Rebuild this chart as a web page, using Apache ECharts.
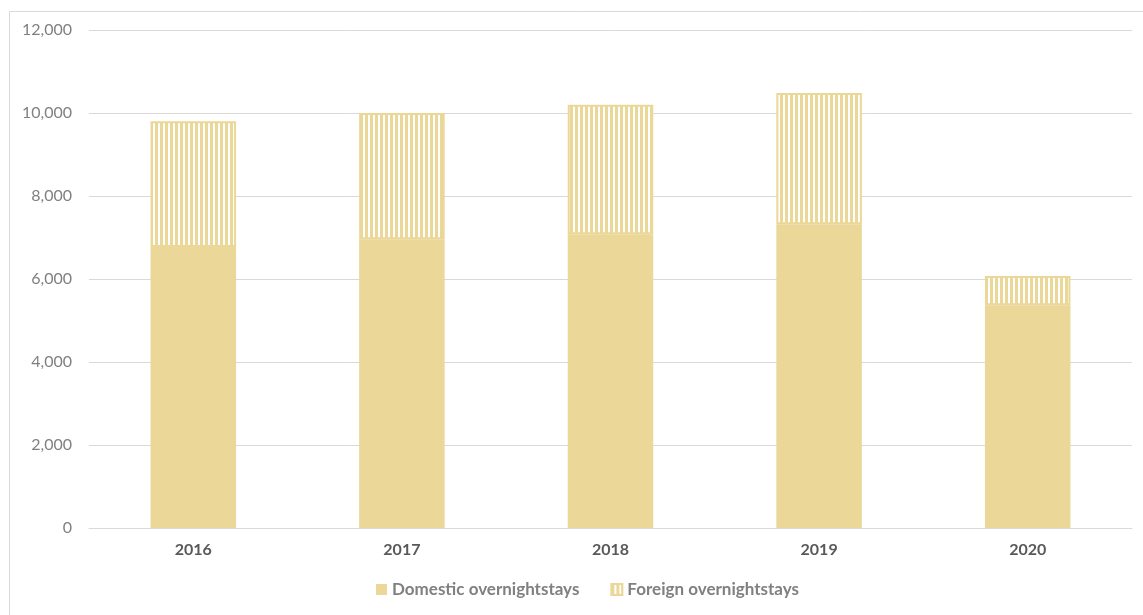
<!DOCTYPE html>
<html>
<head>
<meta charset="utf-8">
<script src="https://cdn.jsdelivr.net/npm/echarts@6/dist/echarts.min.js"></script>
<style>
  html, body { margin: 0; padding: 0; background: #fff; }
  #main { width: 1143px; height: 615px; }
</style>
</head>
<body>
<div id="main"></div>
<script>
  // data
  var years = ['2016', '2017', '2018', '2019', '2020'];
  var domestic = [6770, 6960, 7080, 7320, 5370];
  var foreign = [3030, 3040, 3120, 3160, 700];
  var yTicks = [0, 2000, 4000, 6000, 8000, 10000, 12000];

  var gold = '#ebd798';

  // vertical stripes for the foreign series
  function stripes() {
    var c = document.createElement('canvas');
    c.width = 5; c.height = 8;
    var ctx = c.getContext('2d');
    ctx.fillStyle = '#fff';
    ctx.fillRect(0, 0, 5, 8);
    ctx.fillStyle = gold;
    ctx.fillRect(0, 0, 3, 8);
    return c;
  }

  var chart = echarts.init(document.getElementById('main'));
  chart.setOption({
    animation: false,
    textStyle: { fontFamily: 'Lato' },
    graphic: [{
      type: 'rect',
      left: 7, top: 9,
      shape: { width: 1160, height: 640 },
      style: { fill: 'none', stroke: '#d9d9d9', lineWidth: 1 },
      silent: true
    }],
    grid: { left: 89, right: 11, top: 30, bottom: 87 },
    legend: {
      bottom: 12,
      left: 371,
      itemWidth: 11,
      itemHeight: 11,
      itemGap: 31,
      textStyle: { color: '#808080', fontSize: 17, fontWeight: 'bold' },
      data: [
        { name: 'Domestic overnightstays', icon: 'rect' },
        { name: 'Foreign overnightstays', icon: 'rect' }
      ]
    },
    xAxis: {
      type: 'category',
      data: years,
      axisLine: { lineStyle: { color: '#d9d9d9' } },
      axisTick: { show: false },
      axisLabel: { color: '#595959', fontSize: 16, fontWeight: 'bold', margin: 14 }
    },
    yAxis: {
      type: 'value',
      min: yTicks[0],
      max: yTicks[yTicks.length - 1],
      interval: yTicks[1] - yTicks[0],
      axisLine: { show: false },
      axisTick: { show: false },
      splitLine: { lineStyle: { color: '#d9d9d9' } },
      axisLabel: {
        color: '#808080', fontSize: 16, margin: 17,
        formatter: function (v) { return v.toLocaleString('en-US'); }
      }
    },
    series: [
      {
        name: 'Domestic overnightstays',
        type: 'bar',
        stack: 'total',
        barWidth: '41%',
        itemStyle: { color: gold },
        data: domestic
      },
      {
        name: 'Foreign overnightstays',
        type: 'bar',
        stack: 'total',
        barWidth: '41%',
        itemStyle: {
          color: { image: stripes(), repeat: 'repeat' },
          borderColor: gold,
          borderWidth: 2
        },
        data: foreign
      }
    ]
  });
</script>
</body>
</html>
